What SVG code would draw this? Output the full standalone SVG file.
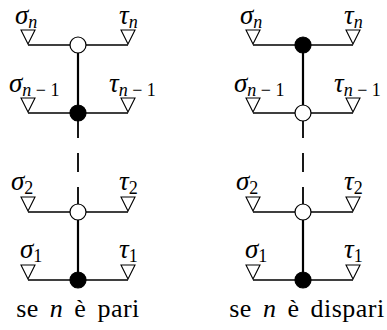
<svg xmlns="http://www.w3.org/2000/svg" width="387" height="330" viewBox="0 0 387 330">
<style>
.h{stroke:#000;stroke-width:1.3;fill:none}
.v{stroke:#000;stroke-width:2.2;fill:none}
.d{stroke:#000;stroke-width:1.8;fill:none}
.tri{fill:#fff;stroke:#000;stroke-width:1.1}
.open{fill:#fff;stroke:#000;stroke-width:1.2}
.full{fill:#000;stroke:#000;stroke-width:1.2}
.lb{font-family:"Liberation Serif",serif;font-size:27px;font-style:italic;fill:#000}
.sb{font-size:18px}
.up{font-style:normal}
.cap{font-family:"Liberation Serif",serif;font-size:26px;word-spacing:4px;letter-spacing:0.5px;fill:#000}
</style>
<defs>
<path id="tr" d="M-7,-15 H7 L0,-1 Z" class="tri"/>
</defs>
<g id="connectors">
<path class="h" d="M28,45 H128 M28,113 H128 M28,212 H128 M28,280 H128"/>
<path class="v" d="M78,45 V113 M78,212 V280"/>
<path class="d" d="M78,113 V138 M78,153 V172 M78,187 V212"/>
<path class="h" d="M253,45 H353 M253,113 H353 M253,212 H353 M253,280 H353"/>
<path class="v" d="M303,45 V113 M303,212 V280"/>
<path class="d" d="M303,113 V138 M303,153 V172 M303,187 V212"/>
</g>
<g id="left">
<g id="L-n">
<use href="#tr" x="28" y="45"/><use href="#tr" x="128" y="45"/>
<text class="lb" x="15" y="24">σ<tspan class="sb" dy="4">n</tspan></text>
<text class="lb" x="119" y="24">τ<tspan class="sb" dy="4">n</tspan></text>
<circle class="open" cx="78" cy="45" r="8"/>
</g>
<g id="L-n1">
<use href="#tr" x="28" y="113"/><use href="#tr" x="128" y="113"/>
<text class="lb" x="9" y="92">σ<tspan class="sb" dy="4">n<tspan class="up"> − 1</tspan></tspan></text>
<text class="lb" x="109" y="92">τ<tspan class="sb" dy="4">n<tspan class="up"> − 1</tspan></tspan></text>
<circle class="full" cx="78" cy="113" r="8"/>
</g>
<g id="L-2">
<use href="#tr" x="28" y="212"/><use href="#tr" x="128" y="212"/>
<text class="lb" x="11" y="190">σ<tspan class="sb up" dy="4">2</tspan></text>
<text class="lb" x="119" y="190">τ<tspan class="sb up" dy="4">2</tspan></text>
<circle class="open" cx="78" cy="212" r="8"/>
</g>
<g id="L-1">
<use href="#tr" x="28" y="280"/><use href="#tr" x="128" y="280"/>
<text class="lb" x="20" y="258">σ<tspan class="sb up" dy="4">1</tspan></text>
<text class="lb" x="119" y="258">τ<tspan class="sb up" dy="4">1</tspan></text>
<circle class="full" cx="78" cy="280" r="8"/>
</g>
<text class="cap" x="78" y="317" text-anchor="middle">se <tspan font-style="italic">n</tspan> è pari</text>
</g>
<g id="right">
<g id="R-n">
<use href="#tr" x="253" y="45"/><use href="#tr" x="353" y="45"/>
<text class="lb" x="240" y="24">σ<tspan class="sb" dy="4">n</tspan></text>
<text class="lb" x="344" y="24">τ<tspan class="sb" dy="4">n</tspan></text>
<circle class="full" cx="303" cy="45" r="8"/>
</g>
<g id="R-n1">
<use href="#tr" x="253" y="113"/><use href="#tr" x="353" y="113"/>
<text class="lb" x="234" y="92">σ<tspan class="sb" dy="4">n<tspan class="up"> − 1</tspan></tspan></text>
<text class="lb" x="334" y="92">τ<tspan class="sb" dy="4">n<tspan class="up"> − 1</tspan></tspan></text>
<circle class="open" cx="303" cy="113" r="8"/>
</g>
<g id="R-2">
<use href="#tr" x="253" y="212"/><use href="#tr" x="353" y="212"/>
<text class="lb" x="236" y="190">σ<tspan class="sb up" dy="4">2</tspan></text>
<text class="lb" x="344" y="190">τ<tspan class="sb up" dy="4">2</tspan></text>
<circle class="open" cx="303" cy="212" r="8"/>
</g>
<g id="R-1">
<use href="#tr" x="253" y="280"/><use href="#tr" x="353" y="280"/>
<text class="lb" x="245" y="258">σ<tspan class="sb up" dy="4">1</tspan></text>
<text class="lb" x="344" y="258">τ<tspan class="sb up" dy="4">1</tspan></text>
<circle class="full" cx="303" cy="280" r="8"/>
</g>
<text class="cap" x="307" y="317" text-anchor="middle">se <tspan font-style="italic">n</tspan> è dispari</text>
</g>
</svg>
